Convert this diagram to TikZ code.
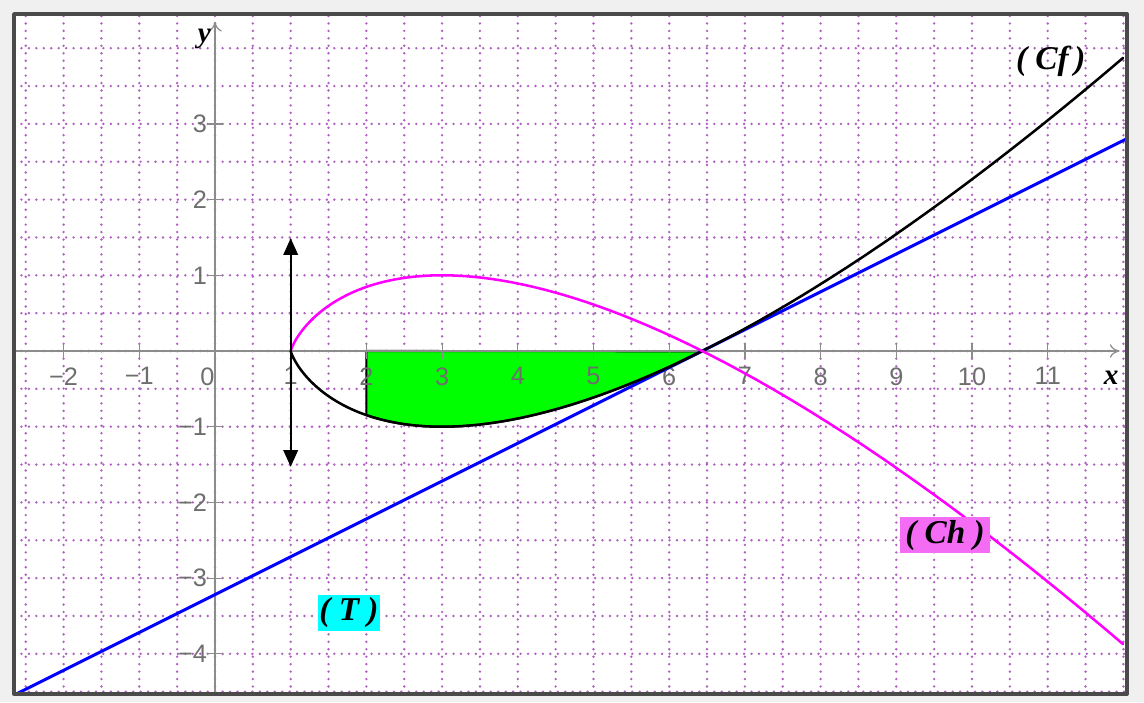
\documentclass[tikz,border=0pt]{standalone}
\usepackage{fontspec}
\setmainfont{Liberation Serif}
\newfontfamily\tickfont{Liberation Sans}
\usepackage{tikz}
\usetikzlibrary{arrows.meta}
\definecolor{outergray}{HTML}{F0F0F0}
\definecolor{frameline}{HTML}{4A4A4A}
\definecolor{gridviolet}{HTML}{B060C0}
\definecolor{axisgray}{HTML}{8C8C8C}
\definecolor{ticktext}{HTML}{6E6E6E}
\definecolor{chpink}{HTML}{FF00FF}
\definecolor{tblue}{HTML}{0000FF}
\definecolor{areagreen}{HTML}{00FF00}
\definecolor{labelpink}{HTML}{F46CF4}
\definecolor{labelcyan}{HTML}{00FFFF}
\tikzset{
    every picture/.style={line cap=round,line join=round},
    gridline/.style={draw=gridviolet,line width=1pt,dash pattern=on 0pt off 2.8pt},
    axisline/.style={draw=axisgray,line width=0.45pt,-{To[length=1.3mm,width=1.8mm]}},
    tickmark/.style={draw=axisgray,line width=0.45pt},
    ticklabel/.style={text=ticktext,inner sep=0pt,font=\tickfont\fontsize{9.5}{10}\selectfont},
    axislabel/.style={inner sep=0pt,font=\bfseries\itshape\fontsize{11}{12}\selectfont},
    curvelabel/.style={inner sep=0pt,font=\bfseries\itshape\fontsize{12.5}{13}\selectfont,
      minimum height=4.8mm,align=center},
    cfcurve/.style={draw=black,line width=0.95pt},
    chcurve/.style={draw=chpink,line width=0.95pt},
    tangent/.style={draw=tblue,line width=1.15pt},
    area/.style={fill=areagreen,draw=black,line width=0.8pt},
    vertarrow/.style={{Triangle[length=2.2mm,width=1.9mm]}-{Triangle[length=2.2mm,width=1.9mm]},
      draw=black,line width=0.8pt}
}

\begin{document}
\begin{tikzpicture}
  \useasboundingbox[fill=outergray] (-2.840,-4.637) rectangle (12.272,4.637);
  \fill[white] (-2.655,-4.53) rectangle (12.05,4.452);
  \begin{scope}
    \clip (-2.655,-4.53) rectangle (12.05,4.452);
    \foreach \x in {-2.5,-2,...,12} {
      \draw[gridline] (\x,-4.53) -- (\x,4.452);
    }
    \foreach \y in {-4.5,-4,...,4} {
      \draw[gridline] (-2.655,\y) -- (12.05,\y);
    }
    \draw[area] (2,0) -- plot[variable=\t,domain=0.70711:1.64872,samples=60]
      ({1+2*\t*\t},{\t*\t*(2*ln(\t)-1)}) -- cycle;
    \draw[axisline] (-2.655,0) -- (11.95,0);
    \draw[axisline] (0,-4.53) -- (0,4.35);
    \foreach \x/\v in {-2/−2,-1/−1,1/1,2/2,3/3,4/4,5/5,6/6,7/7,8/8,9/9,10/10,11/11} {
      \draw[tickmark] (\x,-0.1) -- (\x,0.1);
      \node[ticklabel,anchor=north] (xt\x) at (\x,-0.21) {\v};
    }
    \foreach \y/\v in {-4/−4,-3/−3,-2/−2,-1/−1,1/1,2/2,3/3} {
      \draw[tickmark] (-0.1,\y) -- (0.1,\y);
      \node[ticklabel,anchor=east] (yt\y) at (-0.1,\y) {\v};
    }
    \node[ticklabel,anchor=north] (xt0) at (-0.1,-0.21) {0};
    \draw[tangent] (-2.6,{0.5*(-2.6-6.43656)}) -- (12.1,{0.5*(12.1-6.43656)});
    \draw[cfcurve] (1,0) -- plot[variable=\t,domain=0.001:2.3452,samples=160]
      ({1+2*\t*\t},{\t*\t*(2*ln(\t)-1)});
    \draw[chcurve] (1,0) -- plot[variable=\t,domain=0.001:2.3452,samples=160]
      ({1+2*\t*\t},{-\t*\t*(2*ln(\t)-1)});
  \end{scope}
  \coordinate (tanup) at (1,1.49);
  \coordinate (tandown) at (1,-1.53);
  \draw[vertarrow] (tandown) -- (tanup);
  \node[axislabel] (xlabel) at (11.84,-0.35) {x};
  \node[axislabel] (ylabel) at (-0.14,4.12) {y};
  \node[curvelabel] (cflabel) at (11.04,3.82) {( Cf\,)};
  \node[curvelabel,fill=labelpink,minimum width=11.9mm] (chlabel) at (9.643,-2.431) {( Ch )};
  \node[curvelabel,fill=labelcyan,minimum width=8.2mm] (tlabel) at (1.77,-3.46) {( T )};
  \draw[frameline,line width=1.3pt] (-2.655,-4.53) rectangle (12.05,4.452);
\end{tikzpicture}
\end{document}
